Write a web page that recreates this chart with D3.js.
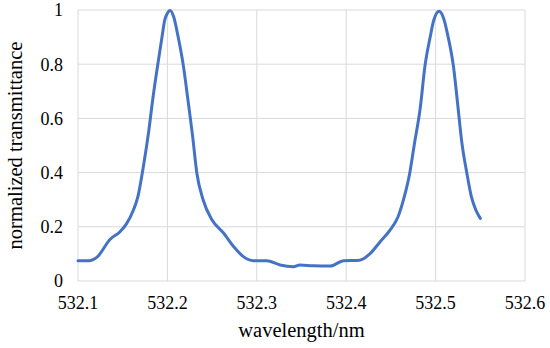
<!DOCTYPE html>
<html>
<head>
<meta charset="utf-8">
<script src="https://cdn.jsdelivr.net/npm/d3@7"></script>
<style>
  body { margin: 0; background: #fff; }
  svg text { font-family: "Liberation Serif", "Times New Roman", serif; fill: #000; }
</style>
</head>
<body>
<div id="chart"></div>
<script>
// wavelength (nm) and normalized transmittance
const wavelength = [532.100, 532.113, 532.121, 532.136, 532.147, 532.154, 532.162, 532.167, 532.173, 532.179,
  532.184, 532.190, 532.194, 532.197, 532.200, 532.203, 532.207, 532.212, 532.218, 532.223,
  532.228, 532.233, 532.240, 532.250, 532.263, 532.274, 532.285, 532.296, 532.311, 532.326,
  532.341, 532.348, 532.363, 532.382, 532.397, 532.415, 532.427, 532.438, 532.449, 532.458,
  532.465, 532.471, 532.476, 532.483, 532.488, 532.494, 532.498, 532.504, 532.509, 532.514,
  532.520, 532.525, 532.529, 532.535, 532.540, 532.545, 532.550];
const transmittance = [0.075, 0.075, 0.087, 0.154, 0.182, 0.210, 0.262, 0.311, 0.420, 0.550,
  0.680, 0.815, 0.901, 0.963, 0.988, 0.998, 0.975, 0.901, 0.791, 0.668,
  0.540, 0.397, 0.299, 0.225, 0.176, 0.127, 0.090, 0.075, 0.075, 0.059,
  0.053, 0.059, 0.056, 0.055, 0.075, 0.077, 0.102, 0.145, 0.188, 0.237,
  0.311, 0.397, 0.500, 0.643, 0.791, 0.901, 0.963, 0.995, 0.969, 0.901,
  0.791, 0.643, 0.520, 0.397, 0.311, 0.262, 0.231];
const xTicks = [532.1, 532.2, 532.3, 532.4, 532.5, 532.6];
const yTicks = [0, 0.2, 0.4, 0.6, 0.8, 1];

const width = 550, height = 348;
const margin = { top: 10, right: 25, bottom: 67, left: 78 };

const svg = d3.select("#chart")
    .append("svg")
    .attr("width", width)
    .attr("height", height);

const x = d3.scaleLinear().domain([532.1, 532.6]).range([margin.left, width - margin.right]);
const y = d3.scaleLinear().domain([0, 1]).range([height - margin.bottom, margin.top]);

// gridlines
svg.append("g")
    .selectAll("line")
    .data(yTicks)
    .enter().append("line")
    .attr("x1", x(532.1)).attr("x2", x(532.6))
    .attr("y1", d => y(d)).attr("y2", d => y(d))
    .attr("stroke", "#d9d9d9").attr("stroke-width", 1);

svg.append("g")
    .selectAll("line")
    .data(xTicks)
    .enter().append("line")
    .attr("x1", d => x(d)).attr("x2", d => x(d))
    .attr("y1", y(0)).attr("y2", y(1))
    .attr("stroke", "#d9d9d9").attr("stroke-width", 1);

// tick labels
svg.append("g")
    .selectAll("text")
    .data(yTicks)
    .enter().append("text")
    .attr("x", margin.left - 15)
    .attr("y", d => y(d))
    .attr("dy", "0.35em")
    .attr("text-anchor", "end")
    .style("font-size", "18px")
    .text(d => d3.format("")(d));

svg.append("g")
    .selectAll("text")
    .data(xTicks)
    .enter().append("text")
    .attr("x", d => x(d))
    .attr("y", y(0) + 28)
    .attr("text-anchor", "middle")
    .style("font-size", "18px")
    .text(d => d3.format(".1f")(d));

// axis titles
svg.append("text")
    .attr("x", (x(532.1) + x(532.6)) / 2)
    .attr("y", 337)
    .attr("text-anchor", "middle")
    .style("font-size", "20.5px")
    .text("wavelength/nm");

svg.append("text")
    .attr("transform", `translate(22,${(y(0) + y(1)) / 2}) rotate(-90)`)
    .attr("text-anchor", "middle")
    .style("font-size", "20.5px")
    .text("normalized transmittance");

// curve
const line = d3.line()
    .x((d, i) => x(wavelength[i]))
    .y(d => y(d))
    .curve(d3.curveMonotoneX);

svg.append("path")
    .datum(transmittance)
    .attr("d", line)
    .attr("fill", "none")
    .attr("stroke", "#4472c4")
    .attr("stroke-width", 3)
    .attr("stroke-linejoin", "round")
    .attr("stroke-linecap", "round");
</script>
</body>
</html>
